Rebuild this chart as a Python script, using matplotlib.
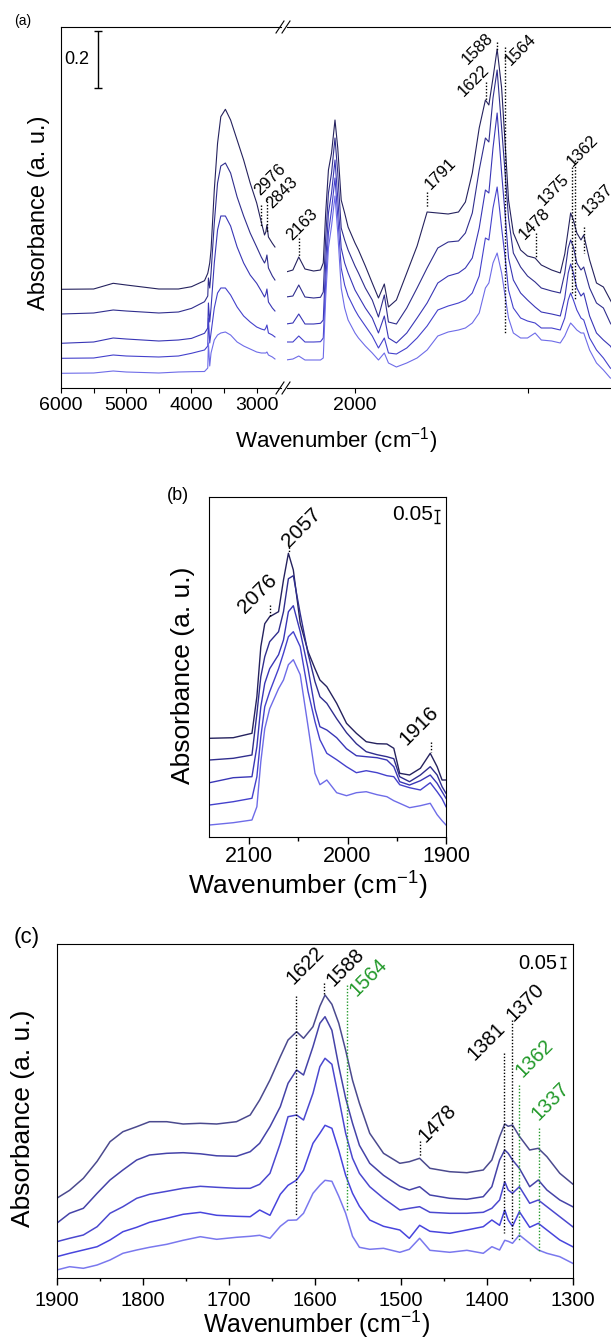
import numpy as np
import matplotlib.pyplot as plt
from matplotlib.lines import Line2D

plt.rcParams['font.family'] = ['Liberation Sans', 'DejaVu Sans']
plt.rcParams['mathtext.default'] = 'regular'

W, H = 611, 1339
colors = ['#25225e', '#302e8e', '#3936b6', '#4441cc', '#6e6ce8']
colors_c = ['#4b4a8e', '#4543a8', '#4b48cf', '#4845dd', '#7a78ee']
green = '#22992a'

# ---------------- panel (a): absorbance offsets (a.u.), 5 spectra, top to bottom
a_left_wn = [6000, 5500, 5200, 5000, 4500, 4200, 4000, 3800, 3750, 3740, 3720, 3700, 3650, 3600,
             3550, 3480, 3400, 3300, 3200, 3100, 3000, 2930, 2880, 2860, 2843, 2820, 2760, 2720]
a_left = [
    [98.7, 99, 104.7, 103, 99, 99, 101.3, 107.3, 114.7, 118, 125, 138, 198, 244.7,
     271.3, 278.7, 268, 248, 228, 205, 185, 166, 153, 156, 163, 151, 144.7, 141],
    [74, 75, 78, 77, 75, 76, 79.6, 86.3, 92, 110, 100, 115, 165, 205,
     222, 225, 215, 191, 172, 155, 141, 131, 125, 128, 133, 120, 112, 108],
    [44.7, 46, 50, 49, 47, 48, 49.6, 54.7, 60, 85, 66, 80, 125, 158,
     172, 172, 162, 141, 125, 113, 104.7, 97, 91, 94, 99, 86, 80, 77],
    [29.7, 30, 33, 32, 31, 32, 34.7, 38, 42, 70, 45, 55, 80, 95,
     100, 100, 93, 81, 72, 66, 61, 59, 58, 60, 63, 55, 53, 51],
    [14.7, 15, 17, 16, 15, 16, 16.3, 16.5, 20, 45, 22, 35, 48, 53,
     55, 56, 53, 46, 42, 39, 36, 35, 35, 35, 36, 33, 31, 29],
]
a_right_wn = [2200, 2180, 2163, 2145, 2120, 2100, 2092, 2085, 2077, 2068, 2058, 2050, 2040, 2030, 2020,
              2000, 1990, 1970, 1950, 1932, 1915, 1903, 1880, 1850, 1820, 1791, 1760, 1730, 1700, 1680,
              1660, 1640, 1622, 1612, 1600, 1588, 1575, 1564, 1555, 1541, 1520, 1500, 1478, 1460, 1430,
              1405, 1392, 1382, 1375, 1367, 1357, 1345, 1337, 1320, 1300, 1280, 1260, 1240]
a_right = [
    [116, 118, 131, 119, 117, 118, 125, 175, 218, 235, 268, 240, 188, 175, 161,
     145, 138, 122, 105, 90, 104, 81, 88, 115, 142, 176, 175, 174, 176, 186,
     215, 260, 288, 283, 310, 339, 300, 240, 188, 155, 138, 132, 130, 123, 118,
     115, 134, 158, 175, 168, 155, 148, 153, 128, 105, 101, 88, 75],
    [91, 92, 103, 91, 90, 90.7, 96, 150, 195, 215, 250, 215, 160, 148, 138,
     122, 115, 100, 88, 71, 93, 66, 64, 80, 100, 120, 140, 146, 147, 155,
     175, 218, 250, 246, 290, 318, 260, 211, 170, 135, 121, 112, 106, 100, 97,
     95, 115, 140, 148, 141, 125, 118, 121, 100, 85, 80, 65, 55],
    [64, 65, 74, 64, 64, 64.7, 68, 125, 175, 195, 228, 190, 140, 125, 115,
     98, 92, 80, 70, 55, 72, 50, 45, 55, 70, 85, 105, 112, 115, 120,
     130, 160, 198, 195, 240, 275, 215, 170, 130, 108, 95, 88, 81, 76, 74,
     72, 90, 115, 124, 115, 100, 92, 95, 72, 55, 48, 42, 32],
    [46, 46, 52, 46, 46, 46.3, 50, 105, 155, 178, 210, 172, 120, 103, 92,
     78, 72, 62, 52, 40, 50, 35, 34, 40, 50, 62, 78, 82, 85, 88,
     95, 112, 150, 148, 180, 201, 160, 128, 98, 80, 70, 67, 65, 60, 60,
     58, 70, 88, 95, 88, 78, 70, 68, 50, 38, 30, 20, 15],
    [28, 29, 32, 28, 28, 28, 30, 90, 140, 162, 192, 155, 100, 80, 68,
     55, 50, 42, 35, 28, 35, 25, 21, 25, 30, 38, 52, 56, 58, 60,
     65, 75, 100, 105, 125, 135, 115, 90, 70, 55, 50, 50, 55, 48, 47,
     45, 52, 60, 65, 62, 58, 55, 55, 38, 25, 18, 10, 8],
]

# ---------------- panel (b)
b_wn = [2140, 2116, 2097, 2092, 2088, 2084, 2079, 2070, 2065, 2060, 2055, 2048, 2040, 2033, 2028,
        2021, 2011, 2001, 1991, 1981, 1970, 1960, 1953, 1947, 1937, 1926, 1916, 1909, 1904, 1900]
b_abs = [
    [98.4, 99, 103.4, 140, 190, 213, 220, 225, 256.7, 283.4, 266.7, 213.4, 185, 168, 156.7,
     150, 133.4, 113.4, 103.4, 95, 93, 92.7, 88.4, 63.4, 61.7, 68.4, 83.4, 70, 56.7, 56.7],
    [76.7, 78.4, 81.7, 123, 160, 180, 195, 205, 225, 258, 261, 223, 183, 155, 140,
     133.4, 118, 104, 93, 85, 82, 80, 78, 60, 55, 61.7, 70, 61.7, 50, 43.4],
    [54, 59, 60, 90, 130, 153.4, 168, 182, 196.7, 225, 231, 205, 168, 128, 110,
     106.7, 99, 88, 81, 80, 79, 76.7, 70, 55, 51.7, 56, 61.7, 53.4, 45, 38.4],
    [31.7, 35, 38.4, 60, 100, 130, 145, 168, 183.4, 200, 205, 190, 145, 115, 97,
     83.4, 77, 70, 64, 66, 64, 61, 60, 52, 49, 46.7, 54, 45, 38, 30],
    [11.7, 14, 16.7, 30, 75, 108, 128, 148, 156.7, 172, 177, 162, 110, 63.4, 52,
     56.7, 44, 41, 44, 45, 42, 40, 36, 33.4, 29, 31, 33.4, 22, 16, 11.7],
]

# ---------------- panel (c)
c_wn = [1900, 1885, 1869, 1853, 1838, 1823, 1807, 1792, 1772, 1753, 1733, 1714, 1691, 1675, 1664,
        1652, 1640, 1631, 1621, 1613, 1602, 1594, 1588, 1580, 1572, 1564, 1556, 1548, 1536, 1520,
        1501, 1490, 1478, 1466, 1443, 1423, 1404, 1394, 1385, 1379, 1375, 1370, 1362, 1350, 1340,
        1330, 1315, 1300]
c_abs = [
    [80, 88, 100, 117, 136.6, 146.6, 151.6, 156.6, 156.6, 154.3, 155, 154.3, 156.6, 163.3, 178.3,
     198.3, 221.6, 238.3, 246.6, 240, 251.6, 272, 283.3, 274, 255, 228, 198, 175, 145, 125,
     115, 116.6, 120, 110, 106.6, 105.6, 108.3, 118.3, 141.6, 154.3, 152, 153.3, 142, 128.3, 130,
     121.6, 105, 94.3],
    [55, 65, 70, 85, 98.3, 108.3, 118.3, 123.3, 125, 125.6, 124.5, 122.5, 122, 126.6, 135,
     151.6, 171.6, 195, 208.3, 203.3, 231.6, 255, 261.6, 248, 212, 180, 155, 133, 115, 103,
     92, 88.3, 91.6, 83.3, 80, 79, 81.6, 91.6, 118.3, 128.3, 125, 118.3, 110, 91.6, 98.3,
     88.3, 78.3, 71.6],
    [36.6, 40, 43.3, 51.6, 65, 71.6, 80, 84, 87, 90, 92, 91, 90, 90, 94,
     105, 135, 161.6, 163.3, 158.3, 185, 211.6, 220, 214, 180, 145, 120, 105, 91.6, 80,
     68.3, 70, 71.6, 66, 65, 65, 66, 70, 78.3, 96.6, 88.3, 85, 91.6, 75, 78.3,
     71.6, 61.6, 51.6],
    [21.6, 25, 28.3, 31.6, 38.3, 46.6, 51, 56, 60, 64, 66, 63, 62, 61.6, 68.3,
     63, 84, 93, 98.3, 108, 135, 145, 153, 150, 128, 103, 85, 72, 58.3, 52,
     48.3, 40, 53, 47, 45, 48.3, 51.6, 58.3, 53, 68.3, 58.3, 52, 66.6, 51, 55,
     48.3, 38.3, 31.6],
    [8.3, 11.6, 10, 13.3, 18.3, 25, 28.3, 31, 34, 38, 41.6, 39, 41, 42, 43,
     40, 52, 58, 58.3, 65, 85, 93, 98, 97, 82, 65, 42, 31, 29, 30,
     26, 29, 40, 28, 26, 28, 25, 31.6, 28.3, 38, 37, 35, 43.3, 35, 28.3,
     25, 21.6, 15],
]

# peak markers: (label, wavenumber, line top, line bottom, text wn, text y, colour)
a_marks = [('2976', 2934, 183, 161, 2788, 208, 'k'), ('2843', 2842, 190, 155, 2604, 195, 'k')]
a_marks_r = [('2163', 2162, 150, 131, 2152, 163, 'k'), ('1791', 1792, 196, 180, 1751, 214, 'k'),
             ('1622', 1621, 306, 288, 1655, 307, 'k'), ('1588', 1589, 346, 338, 1645, 339, 'k'),
             ('1564', 1564, 341, 55, 1520, 338, 'k'), ('1478', 1476, 155, 131, 1478, 164, 'k'),
             ('1375', 1372, 221, 95, 1423, 198, 'k'), ('1362', 1362, 228, 88, 1341, 237, 'k'),
             ('1337', 1336, 161, 135, 1296, 188, 'k')]
b_marks = [('2057', 2059, 290, 284, 2047, 309, 'k'), ('2076', 2079, 232, 220, 2091, 243, 'k'),
           ('1916', 1915, 95, 85, 1927, 111, 'k')]
c_marks = [('1622', 1622, 282, 62, 1611, 313, 'k'), ('1588', 1589, 295, 283, 1564, 311, 'k'),
           ('1564', 1562, 293, 68, 1537, 301, green), ('1478', 1478, 137, 122, 1457, 155, 'k'),
           ('1381', 1380, 225, 45, 1400, 237, 'k'), ('1370', 1371, 258, 38, 1355, 276, 'k'),
           ('1362', 1362, 193, 37, 1344, 220, green), ('1337', 1339, 150, 27, 1326, 177, green)]


def px_axes(x0, y0, x1, y1):
    ax = fig.add_axes([x0 / W, 1 - y1 / H, (x1 - x0) / W, (y1 - y0) / H])
    ax.patch.set_alpha(0)
    ax.set_yticks([])
    return ax


def draw_marks(ax, marks, size):
    for text, wn, y0, y1, tx, ty, c in marks:
        ax.plot([wn, wn], [y0, y1], ls=(0, (1, 1.3)), lw=1, color=c, clip_on=False)
        ax.text(tx, ty, text, rotation=45, ha='center', va='center', color=c,
                fontsize=size, clip_on=False)


def scale_bar(ax, x, y0, y1, tx, ty, text, size, cap):
    ax.errorbar([x], [(y0 + y1) / 2], yerr=[(y1 - y0) / 2], color='k', lw=1,
                capsize=cap, capthick=1, clip_on=False)
    ax.text(tx, ty, text, ha='center', va='center', fontsize=size)


fig = plt.figure(figsize=(W / 100, H / 100), dpi=100)

# ---- (a) broken axis
axl = px_axes(61, 27, 281, 388)
axr = px_axes(287, 27, 700, 388)
for i in range(5):
    axl.plot(a_left_wn, a_left[i], color=colors[i], lw=0.8)
    axr.plot(a_right_wn, a_right[i], color=colors[i], lw=0.8)
axl.set_xlim(6000, 6000 - 220 / 0.06523)
axr.set_xlim(2000 + 68 / 0.345, 2000 - 345 / 0.345)
for ax in (axl, axr):
    ax.set_ylim(0, 361)
    ax.tick_params(axis='x', direction='out', length=3.6, width=0.8, labelsize=14, pad=3)
    ax.tick_params(axis='x', which='minor', direction='out', length=3.6, width=0.8)
axl.spines['right'].set_visible(False)
axr.spines['left'].set_visible(False)
axl.set_xticks([6000, 5000, 4000, 3000])
axl.set_xticks([5500, 4500, 3500], minor=True)
axr.set_xticks([2000, 1500])
axr.set_xticklabels(['2000', ''])
draw_marks(axl, a_marks, 12)
draw_marks(axr, a_marks_r, 12)
scale_bar(axl, 5433, 300, 357, 5755, 328, '0.2', 13, 3)
for yb in (27, 388):
    for dx in (0, 6):
        fig.add_artist(Line2D([(276 + dx) / W, (284 + dx) / W],
                              [1 - (yb + 6) / H, 1 - (yb - 6) / H], color='k', lw=0.8))
fig.text(23 / W, 1 - 21 / H, '(a)', fontsize=10, ha='center', va='center')
fig.text(336 / W, 1 - 441 / H, 'Wavenumber (cm$^{-1}$)', fontsize=16, ha='center', va='center')
fig.text(39 / W, 1 - 213 / H, 'Absorbance (a. u.)', fontsize=17, ha='center', va='center',
         rotation=90)

# ---- (b)
axb = px_axes(209.3, 496.7, 446, 836.7)
for i in range(5):
    axb.plot(b_wn, b_abs[i], color=colors[i], lw=1.0)
axb.set_xlim(2100 + 39.7 / 0.985, 1900)
axb.set_ylim(0, 340)
axb.set_xticks([2100, 2000, 1900])
axb.set_xticks([2050, 1950], minor=True)
axb.tick_params(axis='x', direction='out', length=4.8, width=1, labelsize=15.5, pad=2)
axb.tick_params(axis='x', which='minor', direction='out', length=3, width=1)
draw_marks(axb, b_marks, 15)
scale_bar(axb, 1909, 314, 327, 1934, 322, '0.05', 15, 2)
fig.text(178 / W, 1 - 496 / H, '(b)', fontsize=13, ha='center', va='center')
fig.text(308 / W, 1 - 886 / H, 'Wavenumber (cm$^{-1}$)', fontsize=19, ha='center', va='center')
fig.text(183 / W, 1 - 675 / H, 'Absorbance (a. u.)', fontsize=19, ha='center', va='center',
         rotation=90)

# ---- (c)
axc = px_axes(56.7, 944.3, 572.7, 1278.3)
for i in range(5):
    axc.plot(c_wn, c_abs[i], color=colors_c[i], lw=1.1)
axc.set_xlim(1900, 1300)
axc.set_ylim(0, 334)
axc.set_xticks(np.arange(1900, 1299, -100))
axc.set_xticks(np.arange(1850, 1300, -100), minor=True)
axc.tick_params(axis='x', direction='out', length=4.8, width=1, labelsize=14.5, pad=4)
axc.tick_params(axis='x', which='minor', direction='out', length=2.5, width=1)
draw_marks(axc, c_marks, 14.5)
scale_bar(axc, 1311, 310, 321, 1341, 315, '0.05', 14.5, 2)
fig.text(27 / W, 1 - 938 / H, '(c)', fontsize=16, ha='center', va='center')
fig.text(317 / W, 1 - 1324 / H, 'Wavenumber (cm$^{-1}$)', fontsize=18, ha='center', va='center')
fig.text(23 / W, 1 - 1118 / H, 'Absorbance (a. u.)', fontsize=19, ha='center', va='center',
         rotation=90)

fig.savefig('out.png', dpi=100)
